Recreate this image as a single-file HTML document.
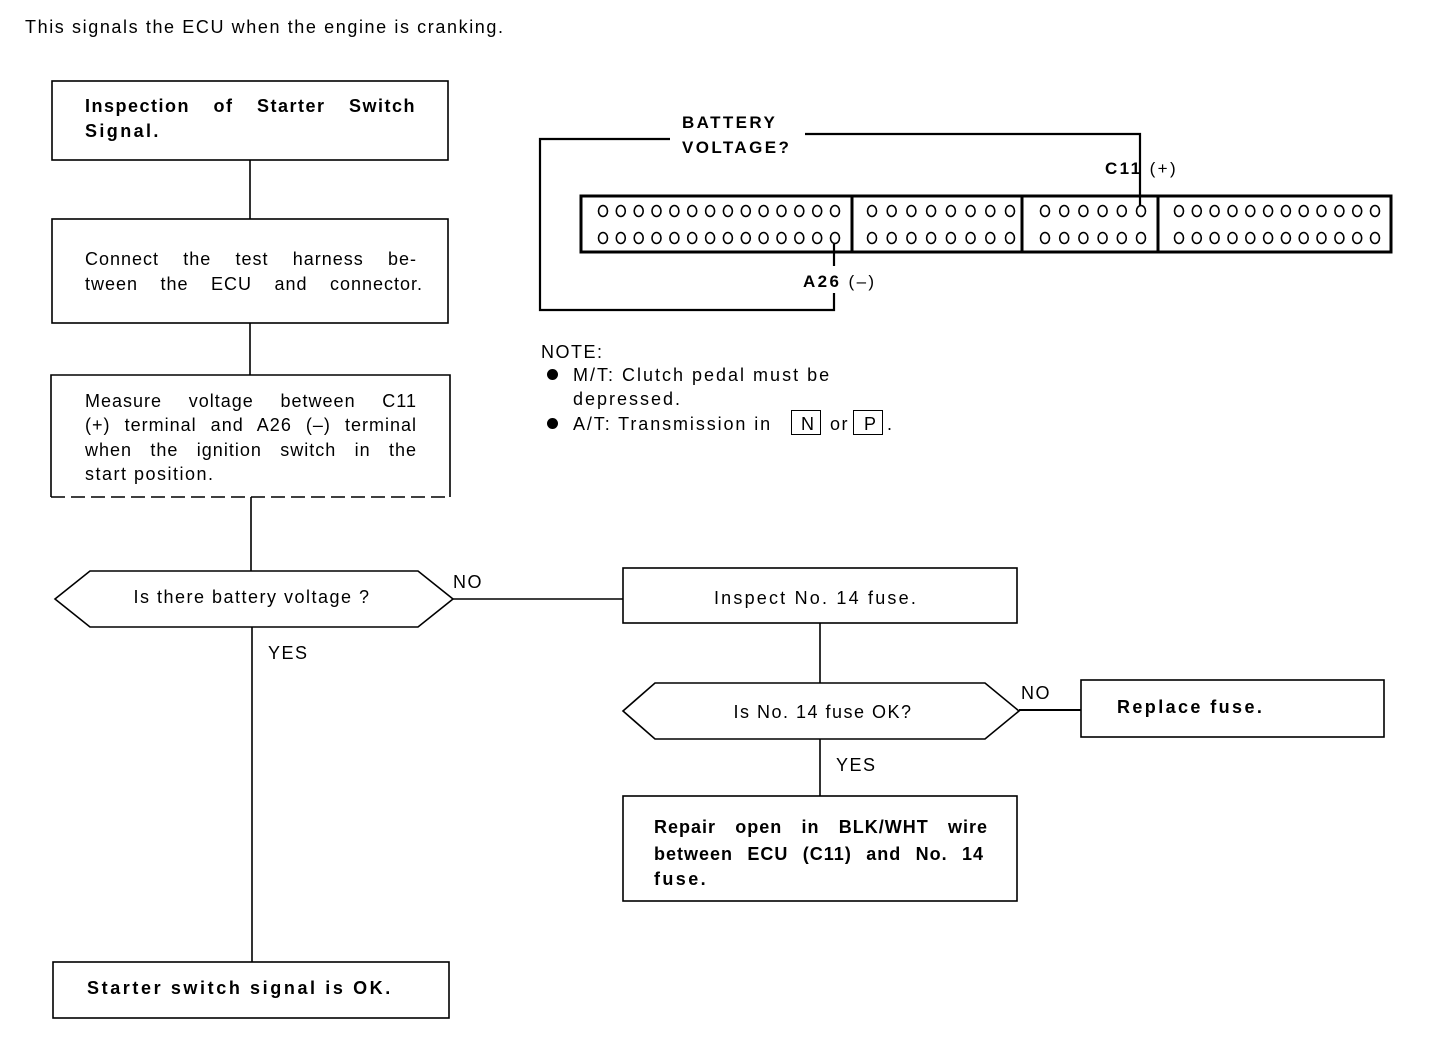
<!DOCTYPE html>
<html><head><meta charset="utf-8"><style>
html,body{margin:0;padding:0;background:#fff;}
body{position:relative;width:1440px;height:1048px;overflow:hidden;}
svg{position:absolute;left:0;top:0;}
.t{position:absolute;font-family:"Liberation Sans",sans-serif;font-size:18px;line-height:20px;color:#000;white-space:nowrap;letter-spacing:1.5px;}
.b{font-weight:bold;letter-spacing:2.4px;}
.j{text-align:justify;text-align-last:justify;white-space:normal;letter-spacing:1px;}
.c{transform:translateX(-50%);}
.box{position:absolute;border:1.6px solid #000;width:28px;height:23px;}
.dot{position:absolute;width:11px;height:11px;border-radius:50%;background:#000;}
</style></head><body>
<svg width="1440" height="1048" viewBox="0 0 1440 1048" xmlns="http://www.w3.org/2000/svg">
<defs>
<g id="row" fill="none" stroke="#000" stroke-width="1.6">
<ellipse cx="603" cy="211" rx="4.5" ry="5.5"/><ellipse cx="620.8" cy="211" rx="4.5" ry="5.5"/><ellipse cx="638.7" cy="211" rx="4.5" ry="5.5"/><ellipse cx="656.5" cy="211" rx="4.5" ry="5.5"/><ellipse cx="674.4" cy="211" rx="4.5" ry="5.5"/><ellipse cx="692.2" cy="211" rx="4.5" ry="5.5"/><ellipse cx="710.1" cy="211" rx="4.5" ry="5.5"/><ellipse cx="727.9" cy="211" rx="4.5" ry="5.5"/><ellipse cx="745.8" cy="211" rx="4.5" ry="5.5"/><ellipse cx="763.6" cy="211" rx="4.5" ry="5.5"/><ellipse cx="781.5" cy="211" rx="4.5" ry="5.5"/><ellipse cx="799.3" cy="211" rx="4.5" ry="5.5"/><ellipse cx="817.2" cy="211" rx="4.5" ry="5.5"/><ellipse cx="835" cy="211" rx="4.5" ry="5.5"/>
<ellipse cx="872" cy="211" rx="4.5" ry="5.5"/><ellipse cx="891.7" cy="211" rx="4.5" ry="5.5"/><ellipse cx="911.4" cy="211" rx="4.5" ry="5.5"/><ellipse cx="931.1" cy="211" rx="4.5" ry="5.5"/><ellipse cx="950.9" cy="211" rx="4.5" ry="5.5"/><ellipse cx="970.6" cy="211" rx="4.5" ry="5.5"/><ellipse cx="990.3" cy="211" rx="4.5" ry="5.5"/><ellipse cx="1010" cy="211" rx="4.5" ry="5.5"/>
<ellipse cx="1045" cy="211" rx="4.5" ry="5.5"/><ellipse cx="1064.2" cy="211" rx="4.5" ry="5.5"/><ellipse cx="1083.4" cy="211" rx="4.5" ry="5.5"/><ellipse cx="1102.6" cy="211" rx="4.5" ry="5.5"/><ellipse cx="1121.8" cy="211" rx="4.5" ry="5.5"/><ellipse cx="1141" cy="211" rx="4.5" ry="5.5"/>
<ellipse cx="1179" cy="211" rx="4.5" ry="5.5"/><ellipse cx="1196.8" cy="211" rx="4.5" ry="5.5"/><ellipse cx="1214.6" cy="211" rx="4.5" ry="5.5"/><ellipse cx="1232.5" cy="211" rx="4.5" ry="5.5"/><ellipse cx="1250.3" cy="211" rx="4.5" ry="5.5"/><ellipse cx="1268.1" cy="211" rx="4.5" ry="5.5"/><ellipse cx="1285.9" cy="211" rx="4.5" ry="5.5"/><ellipse cx="1303.7" cy="211" rx="4.5" ry="5.5"/><ellipse cx="1321.5" cy="211" rx="4.5" ry="5.5"/><ellipse cx="1339.4" cy="211" rx="4.5" ry="5.5"/><ellipse cx="1357.2" cy="211" rx="4.5" ry="5.5"/><ellipse cx="1375" cy="211" rx="4.5" ry="5.5"/>
</g>
</defs>
<use href="#row"/>
<use href="#row" y="27"/>
<g fill="none" stroke="#000" stroke-width="1.6">
<rect x="52" y="81" width="396" height="79"/>
<rect x="52" y="219" width="396" height="104"/>
<path d="M51,497 V375 H450 V497"/>
<path d="M51,497 H450" stroke-dasharray="14,6"/>
<line x1="250" y1="160" x2="250" y2="219"/>
<line x1="250" y1="323" x2="250" y2="375"/>
<line x1="251" y1="497" x2="251" y2="571"/>
<polygon points="55,599 90,571 418,571 453,599 418,627 90,627"/>
<line x1="453" y1="599" x2="623" y2="599"/>
<rect x="623" y="568" width="394" height="55"/>
<line x1="820" y1="623" x2="820" y2="683"/>
<polygon points="623,711 655,683 985,683 1019,711 985,739 655,739"/>
<line x1="1019" y1="710" x2="1081" y2="710" stroke-width="2"/>
<rect x="1081" y="680" width="303" height="57"/>
<line x1="820" y1="739" x2="820" y2="796"/>
<rect x="623" y="796" width="394" height="105"/>
<line x1="252" y1="627" x2="252" y2="962"/>
<rect x="53" y="962" width="396" height="56"/>
<rect x="581" y="196" width="810" height="56" stroke-width="3"/>
<line x1="852" y1="196" x2="852" y2="252" stroke-width="3"/>
<line x1="1022" y1="196" x2="1022" y2="252" stroke-width="3"/>
<line x1="1158" y1="196" x2="1158" y2="252" stroke-width="3"/>
<path d="M670,139 H540 V310 H834 V293" stroke-width="2.2"/>
<path d="M834,244 V266" stroke-width="2.2"/>
<path d="M805,134 H1140 V206" stroke-width="2.2"/>
</g>
</svg>
<div class="t" style="left:25px;top:17px;letter-spacing:1.6px">This signals the ECU when the engine is cranking.</div>
<div class="t b j" style="left:85px;top:96px;width:331px;letter-spacing:1.5px">Inspection of Starter Switch</div>
<div class="t b" style="left:85px;top:121px">Signal.</div>
<div class="t j" style="left:85px;top:249px;width:332px">Connect the test harness be-</div>
<div class="t j" style="left:85px;top:274px;width:338px">tween the ECU and connector.</div>
<div class="t j" style="left:85px;top:391px;width:332px">Measure voltage between C11</div>
<div class="t j" style="left:85px;top:415px;width:332px">(+) terminal and A26 (–) terminal</div>
<div class="t j" style="left:85px;top:440px;width:332px">when the ignition switch in the</div>
<div class="t" style="left:85px;top:464px">start position.</div>
<div class="t c" style="left:252px;top:587px">Is there battery voltage ?</div>
<div class="t" style="left:453px;top:572px">NO</div>
<div class="t" style="left:268px;top:643px">YES</div>
<div class="t c" style="left:816px;top:588px;letter-spacing:2.2px">Inspect No. 14 fuse.</div>
<div class="t c" style="left:823px;top:702px">Is No. 14 fuse OK?</div>
<div class="t" style="left:1021px;top:683px">NO</div>
<div class="t b" style="left:1117px;top:697px">Replace fuse.</div>
<div class="t" style="left:836px;top:755px">YES</div>
<div class="t b j" style="left:654px;top:817px;width:334px">Repair open in BLK/WHT wire</div>
<div class="t b j" style="left:654px;top:844px;width:330px">between ECU (C11) and No. 14</div>
<div class="t b" style="left:654px;top:869px">fuse.</div>
<div class="t b" style="left:87px;top:978px;letter-spacing:2.6px">Starter switch signal is OK.</div>
<div class="t b" style="left:682px;top:113px;font-size:17px">BATTERY</div>
<div class="t b" style="left:682px;top:138px;font-size:17px">VOLTAGE?</div>
<div class="t b" style="left:1105px;top:159px;font-size:17px">C11 <span style="font-weight:normal">(+)</span></div>
<div class="t b" style="left:803px;top:272px;font-size:17px">A26 <span style="font-weight:normal">(–)</span></div>
<div class="t" style="left:541px;top:342px">NOTE:</div>
<div class="dot" style="left:547px;top:369px"></div>
<div class="t" style="left:573px;top:365px;letter-spacing:2px">M/T: Clutch pedal must be</div>
<div class="t" style="left:573px;top:389px;letter-spacing:2px">depressed.</div>
<div class="dot" style="left:547px;top:418px"></div>
<div class="t" style="left:573px;top:414px;letter-spacing:1.9px">A/T: Transmission in</div>
<div class="box" style="left:791px;top:410px"></div>
<div class="t" style="left:801px;top:414px">N</div>
<div class="t" style="left:830px;top:414px">or</div>
<div class="box" style="left:853px;top:410px"></div>
<div class="t" style="left:864px;top:414px">P</div>
<div class="t" style="left:887px;top:414px">.</div>
</body></html>
